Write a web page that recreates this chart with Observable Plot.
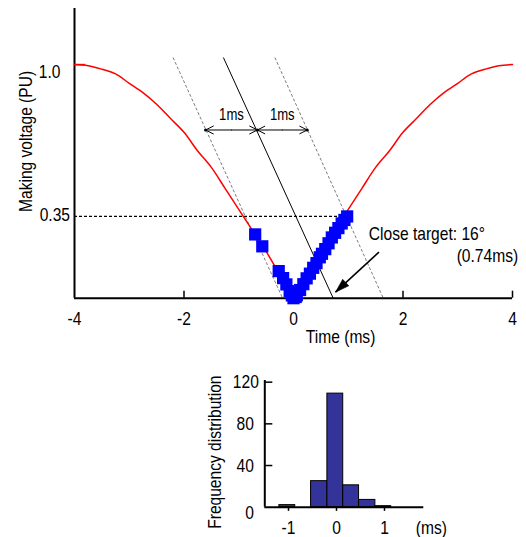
<!DOCTYPE html>
<html>
<head>
<meta charset="utf-8">
<script src="https://cdn.jsdelivr.net/npm/d3@7"></script>
<script src="https://cdn.jsdelivr.net/npm/@observablehq/plot@0.6"></script>
<style>
  html, body { margin: 0; padding: 0; background: #fff; }
  #wrap { position: relative; width: 526px; height: 537px; overflow: hidden; }
  #top, #bottom { position: absolute; left: 0; }
  #top { top: 0; }
  #bottom { top: 350px; }
</style>
</head>
<body>
<div id="wrap"><div id="top"></div><div id="bottom"></div></div>
<script>
// ---------- top chart data ----------
const curveT = [-4,-3.75,-3.5,-3.25,-3,-2.75,-2.5,-2.25,-2,-1.75,-1.5,-1.25,-1,-0.75,-0.5,-0.25,0,
                0.25,0.5,0.75,1,1.25,1.5,1.75,2,2.25,2.5,2.75,3,3.25,3.5,3.75,4];
const curveV = [1.00,0.995,0.98,0.96,0.92,0.88,0.83,0.77,0.71,0.63,0.56,0.47,0.38,0.29,0.20,0.10,0,
                0.10,0.20,0.29,0.38,0.47,0.56,0.63,0.71,0.77,0.83,0.88,0.92,0.96,0.98,0.995,1.00];

const blueT = [-0.70,-0.57,-0.27,-0.19,-0.13,-0.07,-0.03,0.0,0.04,0.06,0.12,0.18,0.24,0.30,0.36,0.42,0.48,0.52,0.58,0.64,0.70,0.76,0.82,0.88,0.93,0.98];
const blueV = [0.273,0.222,0.116,0.086,0.059,0.03,0.012,0.0,0.005,0.012,0.035,0.06,0.085,0.105,0.13,0.15,0.175,0.19,0.21,0.235,0.26,0.28,0.30,0.32,0.335,0.35];

const yTickVals = [1.0, 0.35];
const yTickLabels = ["1.0", "0.35"];
const xTickVals = [-4, -2, 0, 2, 4];
const xTickMarks = [-2, 0, 2, 4];

const threshold = 0.35;
const thresholdEnd = 0.95;

// guide lines: solid target line and the ±1 ms dashed lines
const guideTopT = [-2.2, -1.28, -0.34];
const guideBotT = [-0.2, 0.725, 1.64];
const guideTopV = 1.03;
const guideKind = ["dashed", "solid", "dashed"];

// 1 ms spans
const spanEdges = [-1.605, -0.66, 0.25];
const spanLevel = 0.72;
const spanLabels = ["1ms", "1ms"];
const spanLabelLevel = 0.786;

// close target annotation
const targetLabel1 = "Close target: 16°";
const targetLabel2 = "(0.74ms)";
const targetArrowFrom = [1.56, 0.197];
const targetArrowTo = [0.767, 0.026];

// ---------- histogram data ----------
const binLo = [-1.19, -0.53, -0.19, 0.14, 0.47, 0.81];
const binHi = [-0.86, -0.19, 0.14, 0.47, 0.81, 1.14];
const counts = [2, 25, 109, 21, 7, 1];
const histYTicks = [120, 80, 40, 0];
const histXTicks = [-1, 0, 1];

const FONT = '"Liberation Sans Narrow", "Arial Narrow", "Liberation Sans", Arial, sans-serif';

// ---------- build top chart ----------
const curve = [];
curveT.forEach((t, i) => {
  if (t <= 0) curve.push({t, v: curveV[i], side: "L"});
  if (t >= 0) curve.push({t, v: curveV[i], side: "R"});
});
const blue = blueT.map((t, i) => ({t, v: blueV[i]}));
const guides = guideTopT.map((t, i) => ({x1: t, y1: guideTopV, x2: guideBotT[i], y2: 0, kind: guideKind[i]}));
const spanArrows = [];
for (let i = 0; i < spanEdges.length - 1; i++) {
  const a = spanEdges[i], b = spanEdges[i + 1], m = (a + b) / 2;
  spanArrows.push({x1: m, x2: a}, {x1: m, x2: b});
}
const spanText = spanLabels.map((s, i) => ({s, t: (spanEdges[i] + spanEdges[i + 1]) / 2}));
const headSymbol = {draw(ctx) { ctx.moveTo(0, 0); ctx.lineTo(-4.5, 14); ctx.lineTo(4.5, 14); ctx.closePath(); }};

const topChart = Plot.plot({
  width: 526, height: 350,
  marginLeft: 74, marginRight: 14, marginTop: 8, marginBottom: 52.3,
  x: {domain: [-4, 4], axis: null},
  y: {domain: [0, 1.24], axis: null},
  style: {fontFamily: FONT, background: "transparent", overflow: "visible"},
  marks: [
    Plot.ruleY([threshold], {x1: -4, x2: thresholdEnd, stroke: "black", strokeWidth: 1.2, strokeDasharray: "3,2"}),
    Plot.link(guides.filter(d => d.kind === "dashed"), {x1: "x1", y1: "y1", x2: "x2", y2: "y2", stroke: "#444", strokeWidth: 0.7, strokeDasharray: "3,2"}),
    Plot.link(guides.filter(d => d.kind === "solid"), {x1: "x1", y1: "y1", x2: "x2", y2: "y2", stroke: "black", strokeWidth: 1}),
    Plot.ruleY([0], {x1: -4, x2: 4, stroke: "black", strokeWidth: 2}),
    Plot.ruleX([-4], {y1: 0, y2: 1.24, stroke: "black", strokeWidth: 2}),
    Plot.ruleX(xTickMarks, {y1: 0, y2: 0.03, stroke: "black", strokeWidth: 1.5}),
    Plot.ruleY([1.0], {x1: -4, x2: -3.8, stroke: "#ff0000", strokeWidth: 1.5}),
    Plot.line(curve, {x: "t", y: "v", z: "side", stroke: "#ff0000", strokeWidth: 1.5, curve: "catmull-rom"}),
    Plot.dot(blue, {x: "t", y: "v", symbol: "square", r: 6.9, fill: "#0000ff", stroke: null}),
    Plot.arrow(spanArrows, {x1: "x1", x2: "x2", y1: spanLevel, y2: spanLevel, stroke: "black", strokeWidth: 1, headLength: 15, headAngle: 54}),
    Plot.dot(spanEdges, {x: d => d, y: spanLevel, r: 1.6, fill: "black"}),
    Plot.text(spanText, {x: "t", y: spanLabelLevel, text: "s", fontSize: 16}),
    Plot.link([{a: targetArrowFrom, b: targetArrowTo}], {x1: d => d.a[0], y1: d => d.a[1], x2: d => d.b[0], y2: d => d.b[1], stroke: "black", strokeWidth: 1.6}),
    Plot.dot([targetArrowTo], {x: d => d[0], y: d => d[1], symbol: headSymbol, rotate: 227, fill: "black", stroke: "black", strokeWidth: 0.5}),
    Plot.text([targetLabel1], {x: 1.375, y: 0.276, text: d => d, textAnchor: "start", fontSize: 19}),
    Plot.text([targetLabel2], {x: 2.98, y: 0.183, text: d => d, textAnchor: "start", fontSize: 19}),
    Plot.text(xTickVals, {x: d => d, y: 0, text: d => String(d), dy: 21, fontSize: 19}),
    Plot.text([yTickLabels[0]], {x: -4, y: yTickVals[0], text: d => d, textAnchor: "end", dx: -14, dy: 7.7, fontSize: 19}),
    Plot.text([yTickLabels[1]], {x: -4, y: yTickVals[1], text: d => d, textAnchor: "end", dx: -4.5, dy: -1.5, fontSize: 19}),
    Plot.text(["Time (ms)"], {x: 0.86, y: 0, text: d => d, dy: 38.5, fontSize: 19}),
    Plot.text(["Making voltage (PU)"], {x: -4.895, y: 0.671, text: d => d, rotate: -90, fontSize: 19})
  ]
});
document.getElementById("top").appendChild(topChart);

// ---------- build histogram ----------
const bins = binLo.map((lo, i) => ({lo, hi: binHi[i], n: counts[i]}));
const histChart = Plot.plot({
  width: 526, height: 187,
  marginLeft: 264.3, marginRight: 102.7, marginTop: 30, marginBottom: 30.3,
  x: {domain: [-1.494, 1.819], axis: null},
  y: {domain: [0, 121.6], axis: null},
  style: {fontFamily: FONT, background: "transparent", overflow: "visible"},
  marks: [
    Plot.rect(bins, {x1: "lo", x2: "hi", y1: 0, y2: "n", fill: "#333399", stroke: "black", strokeWidth: 1}),
    Plot.ruleY([0], {x1: -1.494, x2: 1.819, stroke: "black", strokeWidth: 2}),
    Plot.ruleX([-1.494], {y1: 0, y2: 121.6, stroke: "black", strokeWidth: 2}),
    Plot.ruleY(histYTicks.filter(v => v > 0), {x1: -1.494, x2: -1.327, stroke: "black", strokeWidth: 1.5}),
    Plot.ruleX(histXTicks, {y1: 0, y2: -4, stroke: "black", strokeWidth: 1.5}),
    Plot.text(histYTicks.filter(v => v === 120), {x: -1.494, y: d => d, text: d => String(d), textAnchor: "end", dx: -6, fontSize: 19}),
    Plot.text(histYTicks.filter(v => v > 0 && v < 120), {x: -1.494, y: d => d, text: d => String(d), textAnchor: "end", dx: -11, fontSize: 19}),
    Plot.text(histYTicks.filter(v => v === 0), {x: -1.494, y: d => d, text: d => String(d), textAnchor: "end", dx: -11, dy: 6, fontSize: 19}),
    Plot.text(histXTicks, {x: d => d, y: 0, text: d => String(d), dy: 20.5, fontSize: 19}),
    Plot.text(["(ms)"], {x: 1.975, y: 0, text: d => d, dy: 20.5, fontSize: 19}),
    Plot.text(["Frequency distribution"], {x: -2.542, y: 52.8, text: d => d, rotate: -90, fontSize: 19})
  ]
});
document.getElementById("bottom").appendChild(histChart);

// Condense text horizontally (narrow sans look of the original) while keeping it as real text
document.querySelectorAll("#wrap svg text").forEach(t => {
  const L = t.getComputedTextLength();
  if (L > 0) {
    t.setAttribute("textLength", (L * 0.82).toFixed(2));
    t.setAttribute("lengthAdjust", "spacingAndGlyphs");
  }
});
</script>
</body>
</html>
